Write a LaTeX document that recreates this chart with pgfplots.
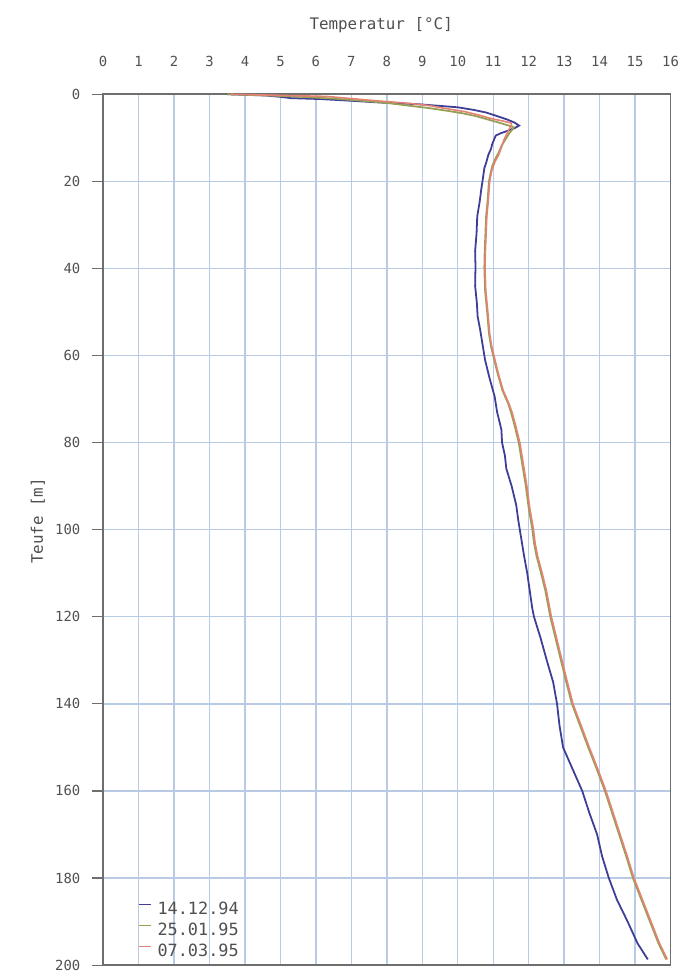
\documentclass[border=0pt]{standalone}
\usepackage{pgfplots}
\pgfplotsset{compat=1.18}
\usepackage{fontspec}
\setmainfont{DejaVu Sans Mono}
\definecolor{gridc}{RGB}{184,202,228}
\definecolor{axc}{RGB}{110,110,110}
\definecolor{txtc}{RGB}{80,80,80}
\definecolor{cblue}{RGB}{62,62,150}
\definecolor{cgreen}{RGB}{150,160,85}
\definecolor{cred}{RGB}{228,130,115}
\begin{document}
\begin{tikzpicture}
\begin{axis}[
  scale only axis,
  width=286pt, height=439pt,
  xmin=0, xmax=16, ymin=0, ymax=200,
  y dir=reverse,
  axis line style={axc, line width=0.8pt},
  xtick={0,...,16},
  ytick={0,20,...,200},
  xticklabel pos=right,
  ytick pos=left,
  xmajorgrids, ymajorgrids,
  major grid style={gridc, line width=0.7pt},
  x tick style={draw=none},
  y tick style={axc, line width=0.6pt},
  tick align=outside,
  major tick length=5.5pt,
  /pgf/number format/assume math mode=true,
  tick label style={font=\fontsize{7}{8}\selectfont, text=txtc},
  xticklabel style={anchor=base, yshift=8.5pt},
  yticklabel style={xshift=-2.5pt},
  xlabel={Temperatur [°C]},
  xlabel style={at={(axis description cs:0.49,1)}, anchor=center, yshift=35pt, font=\fontsize{8}{9}\selectfont, text=txtc},
  ylabel={Teufe [m]},
  ylabel style={at={(axis description cs:-0.115,0.51)}, anchor=center, font=\fontsize{8}{9}\selectfont, text=txtc},
  legend cell align=left,
  legend style={at={(0.05,-0.003)}, anchor=south west, draw=none, fill=none,
    font=\fontsize{8.5}{9}\selectfont, text=txtc, row sep=-1.2pt,
    nodes={inner xsep=3pt}},
  legend image code/.code={\draw[#1, line width=0.9pt] (-3pt,2.6pt) -- (3pt,2.6pt);},
  clip=false,
]
\addplot[cblue, line width=0.9pt] table {
x y
3.5 0
4.6 0.3
5.0 0.6
5.3 0.9
6.1 1.1
7.0 1.5
7.8 1.9
8.9 2.3
10.0 3.0
10.45 3.6
10.8 4.2
11.1 5.0
11.36 5.7
11.6 6.5
11.73 7.2
11.6 7.8
11.44 8.3
11.2 9.0
11.07 9.5
11.02 10.5
10.97 11.5
10.94 12.5
10.86 14
10.81 15.5
10.75 17
10.71 19.3
10.66 22
10.62 24.6
10.55 28
10.53 32
10.49 36
10.50 39.6
10.49 44
10.54 48
10.56 51
10.63 54
10.71 58
10.77 61
10.89 65
11.04 69.4
11.11 73
11.23 77
11.25 80
11.33 83
11.37 86
11.52 90
11.65 94.4
11.71 98
11.79 102
11.87 106
11.96 110
12.03 114
12.10 118
12.15 120
12.34 125
12.51 130
12.69 135
12.80 140
12.87 145
12.97 150
13.24 155
13.51 160
13.71 165
13.93 170
14.07 175
14.26 180
14.49 185
14.79 190
15.07 195
15.36 198.7
};
\addlegendentry{14.12.94}
\addplot[cgreen, line width=0.9pt] table {
x y
3.5 0
4.7 0.3
5.6 0.6
6.5 1.0
7.3 1.5
8.0 2.0
8.6 2.6
9.2 3.2
9.7 3.8
10.15 4.4
10.5 5.0
10.85 5.8
11.15 6.5
11.44 7.2
11.58 7.6
11.55 8.0
11.45 9.0
11.36 10.2
11.26 11.5
11.2 12.5
11.16 13.3
11.08 14.5
10.98 16.3
10.93 18
10.88 20
10.84 24.6
10.8 28
10.78 32
10.76 36
10.75 39.8
10.77 45
10.84 51
10.88 55
10.94 58
11.03 61
11.12 64
11.26 68
11.42 71
11.5 73
11.6 76
11.72 80
11.82 85
11.92 90
12.0 95
12.1 99.7
12.15 103
12.22 106
12.35 110
12.47 114
12.61 120
12.76 125
12.91 130
13.06 135
13.22 140
13.45 145
13.68 150
13.92 155
14.15 160
14.35 165
14.55 170
14.75 175
14.94 180
15.18 185
15.42 190
15.66 195
15.88 198.7
};
\addlegendentry{25.01.95}
\addplot[cred, line width=0.8pt] table {
x y
3.6 0
5.2 0.3
6.3 0.5
7.0 1.0
7.7 1.5
8.5 2.0
9.2 2.6
9.6 3.2
10.2 4.0
10.6 4.8
10.95 5.6
11.3 6.2
11.5 6.6
11.52 7.2
11.45 8.0
11.38 9.2
11.3 10.5
11.24 12.0
11.15 14
11.05 15.5
10.96 17.5
10.9 20
10.86 24.6
10.82 28
10.8 32
10.78 36
10.77 39.8
10.79 45
10.86 51
10.9 55
10.96 58
11.05 61
11.14 64
11.28 68
11.44 71
11.53 73
11.63 76
11.75 80
11.85 85
11.95 90
12.03 95
12.13 99.7
12.18 103
12.25 106
12.38 110
12.5 114
12.64 120
12.79 125
12.94 130
13.09 135
13.25 140
13.48 145
13.71 150
13.95 155
14.18 160
14.38 165
14.58 170
14.78 175
14.97 180
15.21 185
15.45 190
15.69 195
15.91 198.7
};
\addlegendentry{07.03.95}
\end{axis}
\pgfresetboundingbox
\path[use as bounding box] (-52pt,-6pt) rectangle (291pt,486.5pt);
\end{tikzpicture}
\end{document}
